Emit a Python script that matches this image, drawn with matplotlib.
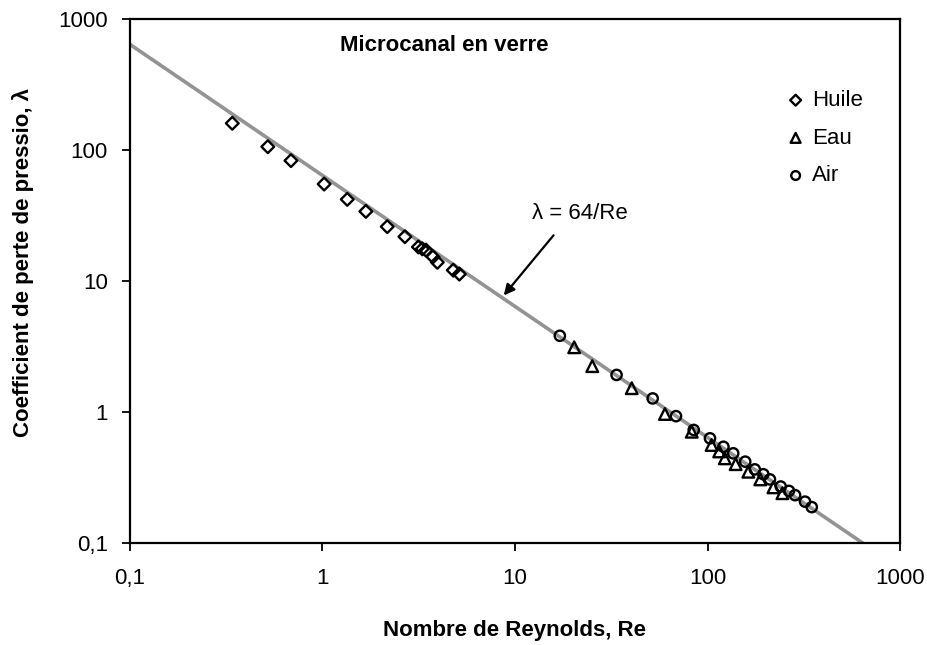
import numpy as np
import matplotlib.pyplot as plt

plt.rcParams["font.family"] = ["Liberation Sans", "DejaVu Sans"]

# Huile (oil) - diamonds
re_huile = [0.34, 0.52, 0.686, 1.02, 1.345, 1.68, 2.17, 2.68, 3.15, 3.3, 3.45, 3.75, 3.95, 4.78, 5.14]
lam_huile = [160, 106, 83, 55, 42, 34, 26, 21.8, 18.2, 17.6, 17.2, 15.3, 13.9, 12.1, 11.3]

# Eau (water) - triangles
re_eau = [20.3, 25.2, 40.4, 60.1, 82.8, 105, 115, 123, 140, 163, 188, 220, 245]
lam_eau = [3.12, 2.24, 1.52, 0.966, 0.707, 0.56, 0.50, 0.443, 0.40, 0.35, 0.306, 0.266, 0.24]

# Air - circles
re_air = [17.1, 33.7, 51.9, 68.6, 84.8, 103, 121, 136, 157, 176, 195, 211, 240, 265, 285, 321, 348]
lam_air = [3.82, 1.92, 1.27, 0.93, 0.73, 0.63, 0.543, 0.484, 0.418, 0.365, 0.335, 0.306, 0.27, 0.25, 0.232, 0.207, 0.188]

# theoretical laminar law
re_line = np.array([0.1, 1000])
lam_line = 64 / re_line

x_ticks = [0.1, 1, 10, 100, 1000]
x_labels = ["0,1", "1", "10", "100", "1000"]
y_ticks = [0.1, 1, 10, 100, 1000]
y_labels = ["0,1", "1", "10", "100", "1000"]

fs = 16

fig = plt.figure(figsize=(9.27, 6.45), dpi=100)
ax = fig.add_axes([0.1402, 0.1581, 0.8307, 0.8124])

ax.plot(re_line, lam_line, color="#939393", lw=2.6, zorder=1)

mk = dict(facecolor="none", edgecolor="black", linewidths=1.7, zorder=3)
ax.scatter(re_huile, lam_huile, marker="D", s=42, label="Huile", **mk)
ax.scatter(re_eau, lam_eau, marker="^", s=70, label="Eau", **mk)
ax.scatter(re_air, lam_air, marker="o", s=55, label="Air", **mk)

ax.set_xscale("log")
ax.set_yscale("log")
ax.set_xlim(0.1, 1000)
ax.set_ylim(0.1, 1000)
ax.set_xticks(x_ticks)
ax.set_xticklabels(x_labels)
ax.set_yticks(y_ticks)
ax.set_yticklabels(y_labels)
ax.minorticks_off()
ax.tick_params(axis="both", which="major", direction="out", length=6, width=1.3,
               labelsize=fs)
ax.tick_params(axis="x", pad=12)
ax.tick_params(axis="y", pad=10)
for s in ax.spines.values():
    s.set_linewidth(1.6)

ax.set_xlabel("Nombre de Reynolds, Re", fontsize=fs, fontweight="bold", labelpad=22)
ax.set_ylabel("Coefficient de perte de pressio, λ", fontsize=fs, fontweight="bold")
ax.yaxis.set_label_coords(-0.125, 0.535)

ax.text(0.273, 0.95, "Microcanal en verre", transform=ax.transAxes, fontsize=fs,
        fontweight="bold", ha="left", va="center")

ax.annotate("", xy=(8.56, 7.48), xytext=(16.2, 23.2),
            arrowprops=dict(arrowstyle="-|>", color="black", lw=1.6, mutation_scale=16))
ax.text(12.2, 33, "λ = 64/Re", fontsize=fs, ha="left", va="center")

ax.legend(loc="upper left", bbox_to_anchor=(0.850, 0.8645), frameon=False,
          fontsize=fs, handlelength=1.0, handletextpad=0.22, labelspacing=0.75,
          borderpad=0, borderaxespad=0, markerscale=0.85)

plt.savefig("out.png", dpi=100)
